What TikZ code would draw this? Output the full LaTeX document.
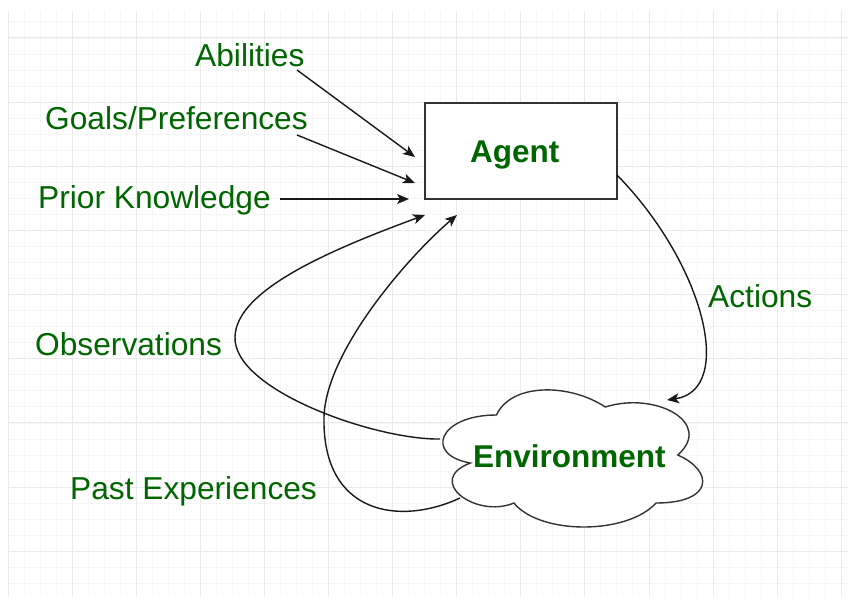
\documentclass[tikz,border=0pt]{standalone}
\usepackage{fontspec}
\setmainfont{Liberation Sans}
\usetikzlibrary{arrows.meta}
\definecolor{lblgreen}{RGB}{0,102,0}
\definecolor{gminor}{RGB}{246,246,246}
\definecolor{gmajor}{RGB}{234,234,234}
\definecolor{edgegray}{RGB}{25,25,25}
\begin{document}
\begin{tikzpicture}[x=1pt,y=-1pt,
  lbl/.style={text=lblgreen, font=\fontsize{31.7}{36}\selectfont, inner sep=0pt, anchor=base west},
  lblb/.style={lbl, font=\fontsize{31.5}{36}\selectfont\bfseries},
  conn/.style={draw=edgegray, line width=1.4pt, -{Stealth[length=12pt,width=10pt,inset=3pt]}},
  shapeline/.style={draw=black!80, line width=1.4pt, fill=white}
]
\useasboundingbox (0,0) rectangle (848,596);
\fill[white] (0,0) rectangle (848,596);
% grid
\foreach \i in {0,...,52} { \draw[gminor, line width=1pt] ({8+16.025*\i},11) -- ({8+16.025*\i},596); }
\foreach \j in {0,...,35} { \draw[gminor, line width=1pt] (8,{22+16.04*\j}) -- (848,{22+16.04*\j}); }
\foreach \i in {0,...,13} { \draw[gmajor, line width=1pt] ({8+64.1*\i},11) -- ({8+64.1*\i},596); }
\foreach \j in {0,...,8} { \draw[gmajor, line width=1pt] (8,{38+64.16*\j}) -- (848,{38+64.16*\j}); }

% agent box
\node (agent) [draw=black!80, line width=1.4pt, fill=white, minimum width=192pt, minimum height=96pt, inner sep=0pt] at (521,151) {};
\node (agenttext) [lblb] at (470,163) {Agent};

% environment cloud
\path[shapeline] (496.5,415)
  .. controls (438.5,415) and (424,455) .. (470.4,463)
  .. controls (424,480.6) and (476.2,519) .. (513.9,503)
  .. controls (540,535) and (627,535) .. (656,503)
  .. controls (714,503) and (714,471) .. (677.75,455)
  .. controls (714,423) and (656,391) .. (605.25,407)
  .. controls (569,383) and (511,383) .. cycle;
\node (envtext) [lblb] at (473,467) {Environment};

% labels
\node (abil) [lbl] at (195,67) {Abilities};
\node (goals) [lbl] at (45,130) {Goals/Preferences};
\node (prior) [lbl] at (38,208) {Prior Knowledge};
\node (obs) [lbl] at (35,355) {Observations};
\node (past) [lbl] at (70,499) {Past Experiences};
\node (act) [lbl] at (708,307) {Actions};

% connector end points
\coordinate (abils) at (297,70);
\coordinate (abilt) at (415,157);
\coordinate (goalss) at (297,135);
\coordinate (goalst) at (415,183);
\coordinate (priors) at (280,199);
\coordinate (priort) at (409,199);
\coordinate (obss) at (440,439);
\coordinate (obsm) at (235,337);
\coordinate (obst) at (425,215);
\coordinate (pasts) at (460,498);
\coordinate (pastm) at (324,417);
\coordinate (pastt) at (457,215);
\coordinate (acts) at (617,175);
\coordinate (actt) at (667,400);

\draw[conn] (abils) -- (abilt);
\draw[conn] (goalss) -- (goalst);
\draw[conn] (priors) -- (priort);
\draw[conn] (obss) .. controls (375,440) and (233,390) .. (obsm)
  .. controls (236,290) and (330,250) .. (obst);
\draw[conn] (pasts) .. controls (400,526) and (322,515) .. (pastm)
  .. controls (326,350) and (410,255) .. (pastt);
\draw[conn] (acts) .. controls (705,265) and (735,390) .. (actt);
\end{tikzpicture}
\end{document}
